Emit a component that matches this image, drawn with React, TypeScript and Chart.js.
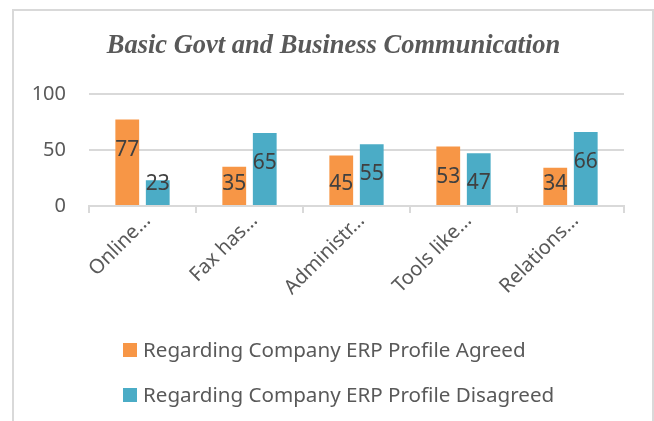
import React, { useEffect, useRef } from "react";
import { Chart, registerables } from "chart.js";

Chart.register(...registerables);

const titleText = "Basic Govt and Business Communication";
const categories = ["Online…", "Fax has…", "Administr…", "Tools like…", "Relations…"];
const seriesNames = [
  "Regarding Company ERP Profile Agreed",
  "Regarding Company ERP Profile Disagreed",
];
const agreed = [77, 35, 45, 53, 34];
const disagreed = [23, 65, 55, 47, 66];
const yTickValues = [0, 50, 100];
const seriesColors = ["#F79646", "#4BACC6"];

const FONT = '"Noto Sans", "Open Sans", sans-serif';

const valueLabels = {
  id: "valueLabels",
  afterDatasetsDraw(chart: any) {
    const ctx = chart.ctx;
    const base = chart.scales.y.getPixelForValue(0);
    ctx.save();
    ctx.font = `21px ${FONT}`;
    ctx.fillStyle = "#404040";
    ctx.textAlign = "center";
    ctx.textBaseline = "middle";
    chart.data.datasets.forEach((ds: any, i: number) => {
      chart.getDatasetMeta(i).data.forEach((bar: any, j: number) => {
        const y = Math.min(bar.y + 30, base - 22);
        ctx.fillText(String(ds.data[j]), bar.x, y);
      });
    });
    ctx.restore();
  },
};

const customLegend = {
  id: "customLegend",
  afterDraw(chart: any) {
    const { ctx, chartArea } = chart;
    const x0 = chartArea.left + 34;
    ctx.save();
    ctx.font = `20.6px ${FONT}`;
    ctx.textBaseline = "middle";
    ctx.textAlign = "left";
    chart.data.datasets.forEach((ds: any, i: number) => {
      const cy = chartArea.bottom + 144 + i * 45;
      ctx.fillStyle = ds.backgroundColor;
      ctx.fillRect(x0, cy - 7, 14, 14);
      ctx.fillStyle = "#595959";
      ctx.fillText(ds.label, x0 + 20, cy + 1);
    });
    ctx.restore();
  },
};

export default function App() {
  const canvasRef = useRef<HTMLCanvasElement | null>(null);

  useEffect(() => {
    if (!canvasRef.current) return;
    const chart = new Chart(canvasRef.current, {
      type: "bar",
      data: {
        labels: categories,
        datasets: [
          {
            label: seriesNames[0],
            data: agreed,
            backgroundColor: seriesColors[0],
            categoryPercentage: 0.57,
            barPercentage: 0.78,
          },
          {
            label: seriesNames[1],
            data: disagreed,
            backgroundColor: seriesColors[1],
            categoryPercentage: 0.57,
            barPercentage: 0.78,
          },
        ],
      },
      options: {
        animation: false,
        responsive: true,
        maintainAspectRatio: false,
        layout: { padding: { left: 32, right: 19, top: 0, bottom: 0 } },
        plugins: {
          legend: { display: false },
          tooltip: { enabled: false },
          title: {
            display: true,
            text: titleText,
            color: "#595959",
            font: { family: '"Liberation Serif", serif', size: 26.5, style: "italic", weight: "bold" },
            padding: { top: 30, bottom: 32 },
          },
        },
        scales: {
          x: {
            grid: {
              display: true,
              drawOnChartArea: false,
              drawTicks: true,
              tickLength: 7,
              color: "#d9d9d9",
              lineWidth: 2,
              offset: true,
            },
            border: { display: true, color: "#d9d9d9", width: 2 },
            ticks: {
              minRotation: 45,
              maxRotation: 45,
              autoSkip: false,
              padding: -4,
              labelOffset: 5,
              color: "#595959",
              font: { family: FONT, size: 20 },
            },
            afterFit: (s: any) => {
              s.height = 215;
            },
          },
          y: {
            min: 0,
            max: 100,
            afterBuildTicks: (s: any) => {
              s.ticks = yTickValues.map((v) => ({ value: v }));
            },
            ticks: {
              padding: 23,
              color: "#595959",
              font: { family: FONT, size: 20 },
            },
            grid: { color: "#d9d9d9", lineWidth: 2, drawTicks: false },
            border: { display: false },
            afterFit: (s: any) => {
              s.width = 57;
            },
          },
          ySpacer: {
            type: "linear",
            position: "right",
            display: true,
            grid: { display: false, drawTicks: false },
            border: { display: false },
            ticks: { display: false },
            afterFit: (s: any) => {
              s.width = 11;
            },
          },
        },
      },
      plugins: [valueLabels, customLegend],
    });
    return () => chart.destroy();
  }, []);

  return (
    <div
      style={{
        position: "fixed",
        left: 0,
        top: 0,
        width: 654,
        height: 421,
        overflow: "hidden",
        background: "#ffffff",
      }}
    >
      <div
        style={{
          position: "absolute",
          left: 12,
          top: 9,
          width: 638,
          height: 440,
          border: "2px solid #d9d9d9",
          boxSizing: "content-box",
        }}
      />
      <div style={{ position: "absolute", left: 0, top: 0, width: 654, height: 421 }}>
        <canvas ref={canvasRef} />
      </div>
    </div>
  );
}
